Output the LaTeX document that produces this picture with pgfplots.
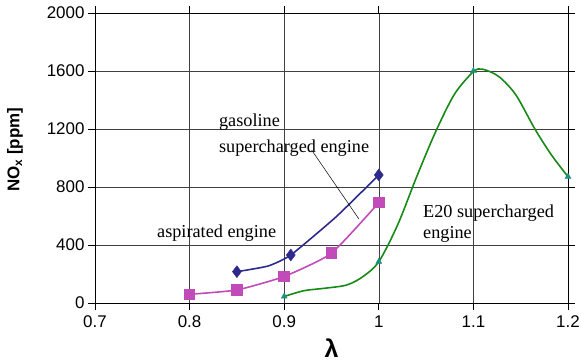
\documentclass[border=0pt]{standalone}
\usepackage{pgfplots}
\pgfplotsset{compat=1.18}
\usepackage{fontspec}
\setmainfont{Liberation Serif}
\newfontfamily\arial{Liberation Sans}
\definecolor{cblue}{HTML}{2E2A8C}
\definecolor{cmag}{HTML}{C24BBA}
\definecolor{cgreen}{HTML}{168A16}
\definecolor{cteal}{HTML}{1F9080}
\begin{document}
\begin{tikzpicture}
\useasboundingbox (-95bp,-60bp) rectangle (486bp,303bp);
\begin{axis}[
  at={(0,0)}, anchor=south west,
  scale only axis, width=473bp, height=290bp,
  xmin=0.7, xmax=1.2, ymin=0, ymax=2000,
  xtick={0.7,0.8,0.9,1,1.1,1.2},
  xticklabels={0.7,0.8,0.9,1,1.1,1.2},
  ytick={0,400,800,1200,1600,2000},
  scaled y ticks=false,
  /pgf/number format/1000 sep={},
  /pgf/number format/assume math mode=true,
  grid=major,
  major grid style={black!75, line width=0.6pt},
  tick align=outside, major tick length=7bp,
  tick style={black, line width=0.8pt},
  axis line style={black, line width=0.9pt},
  ticklabel style={font=\arial\fontsize{17}{18}\selectfont},
  xticklabel style={yshift=-2bp},
  xlabel={\arial\bfseries\fontsize{25}{25}\selectfont λ},
  xlabel style={at={(axis description cs:0.5,-0.155)}, anchor=center},
  ylabel={\arial\bfseries\fontsize{17}{18}\selectfont NO\textsubscript{x} [ppm]},
  ylabel style={at={(axis description cs:-0.169,0.528)}, anchor=center},
  clip=false,
]
% E20 supercharged engine (curve)
\addplot[cgreen, line width=1.6pt, smooth, tension=0.5] coordinates {
 (0.9,45) (0.921,85) (0.942,101) (0.966,124) (0.983,181) (1.0,285)
 (1.02,540) (1.04,870) (1.06,1180) (1.08,1440) (1.1,1595) (1.11,1612)
 (1.127,1561) (1.145,1434) (1.165,1200) (1.1825,1021) (1.2,871)};
\addplot[only marks, mark=triangle*, mark size=3.5pt, color=cteal] coordinates {
 (0.9,45) (1.0,285) (1.1,1600) (1.2,871)};
% aspirated engine
\addplot[cmag, line width=1.6pt, smooth, tension=0.3, mark=square*, mark size=5pt, mark options={solid}] coordinates {
 (0.8,60) (0.85,90) (0.9,183) (0.95,343) (1.0,692)};
% gasoline supercharged engine
\addplot[cblue, line width=1.6pt, smooth, tension=0.3] coordinates {
 (0.85,216) (0.883,255) (0.907,331) (0.955,595) (1.0,883)};
\addplot[only marks, mark=diamond*, mark size=6pt, color=cblue] coordinates {
 (0.85,216) (0.907,331) (1.0,883)};
% annotations
\node[anchor=base west, inner sep=0pt, font=\fontsize{18.3}{18}\selectfont] at (axis cs:0.831,1214) {gasoline};
\node[anchor=base west, inner sep=0pt, font=\fontsize{18.3}{18}\selectfont] at (axis cs:0.831,1041) {supercharged engine};
\node[anchor=base west, inner sep=0pt, font=\fontsize{18.3}{18}\selectfont] at (axis cs:0.7655,455) {aspirated engine};
\node[anchor=base west, inner sep=0pt, font=\fontsize{18.3}{18}\selectfont] at (axis cs:1.0467,593) {E20 supercharged};
\node[anchor=base west, inner sep=0pt, font=\fontsize{18.3}{18}\selectfont] at (axis cs:1.0467,448) {engine};
\draw[black, line width=0.5pt] (axis cs:0.929,1055) -- (axis cs:0.979,579);
\end{axis}
\end{tikzpicture}
\end{document}
